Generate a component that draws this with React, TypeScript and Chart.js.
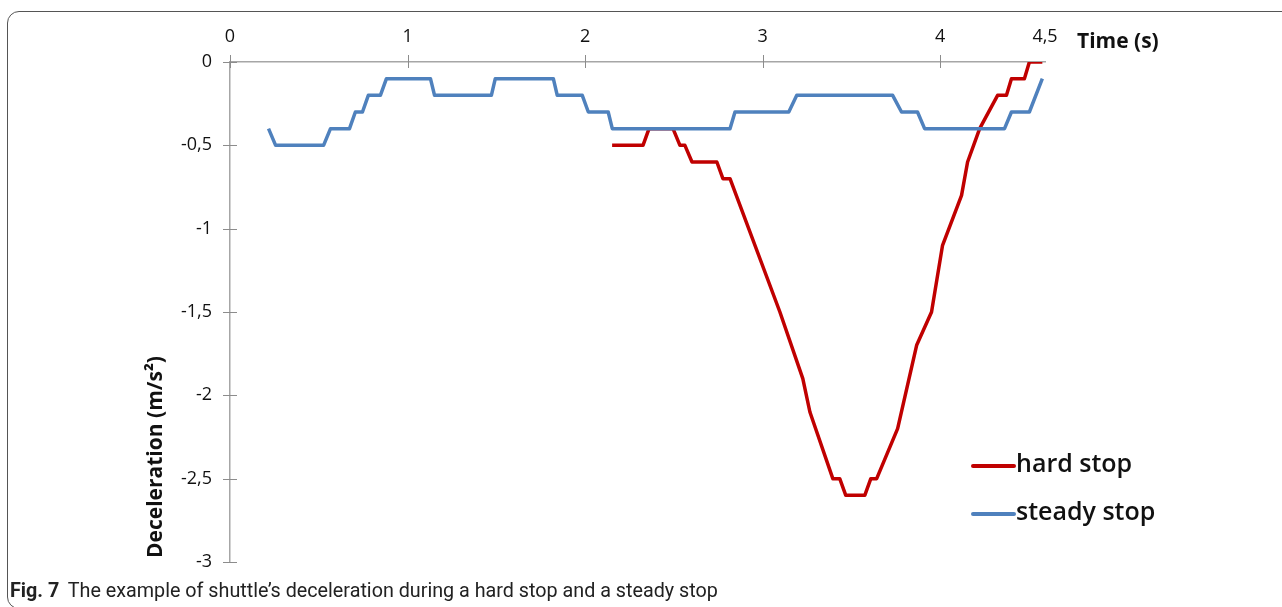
import { useEffect, useRef } from "react";
import { Chart, registerables } from "chart.js";
Chart.register(...registerables);

// ---- data ----
const X_TICK_VALUES = [0, 1, 2, 3, 4, 4.59];
const X_TICK_LABELS = ["0", "1", "2", "3", "4", "4,5"];
const Y_TICK_VALUES = [0, -0.5, -1, -1.5, -2, -2.5, -3];
const Y_TICK_LABELS = ["0", "-0,5", "-1", "-1,5", "-2", "-2,5", "-3"];
const SERIES_LABELS = ["hard stop", "steady stop"];
const SERIES_COLORS = ["#C00000", "#4F81BD"];

const HARD_T = [2.152, 2.326, 2.36, 2.495, 2.534, 2.562, 2.602, 2.742, 2.776, 2.816, 3.097, 3.226, 3.266, 3.395, 3.434, 3.468, 3.575, 3.609, 3.642, 3.76, 3.867, 3.951, 4.013, 4.12, 4.154, 4.222, 4.323, 4.373, 4.401, 4.474, 4.502, 4.575];
const HARD_V = [-0.5, -0.5, -0.4, -0.4, -0.5, -0.5, -0.6, -0.6, -0.7, -0.7, -1.5, -1.9, -2.1, -2.5, -2.5, -2.6, -2.6, -2.5, -2.5, -2.2, -1.7, -1.5, -1.1, -0.8, -0.6, -0.4, -0.2, -0.2, -0.1, -0.1, 0, 0];

const STEADY_T = [0.217, 0.257, 0.527, 0.566, 0.673, 0.706, 0.746, 0.779, 0.847, 0.881, 1.129, 1.152, 1.472, 1.494, 1.821, 1.843, 1.984, 2.018, 2.13, 2.153, 2.816, 2.844, 3.147, 3.192, 3.732, 3.782, 3.872, 3.912, 4.362, 4.401, 4.502, 4.575];
const STEADY_V = [-0.4, -0.5, -0.5, -0.4, -0.4, -0.3, -0.3, -0.2, -0.2, -0.1, -0.1, -0.2, -0.2, -0.1, -0.1, -0.2, -0.2, -0.3, -0.3, -0.4, -0.4, -0.3, -0.3, -0.2, -0.2, -0.3, -0.3, -0.4, -0.4, -0.3, -0.3, -0.1];

const X_TITLE = "Time (s)";
const Y_TITLE = "Deceleration (m/s²)";

const TICK_FONT = "Open Sans";

const decorPlugin = {
  id: "decor",
  afterDraw(chart: any) {
    const ctx = chart.ctx;
    const xs = chart.scales.x;
    const ys = chart.scales.y;
    const top = chart.chartArea.top;
    const left = chart.chartArea.left;
    ctx.save();
    // cross tick marks
    ctx.strokeStyle = "#8c8c8c";
    ctx.lineWidth = 1;
    X_TICK_VALUES.slice(0, 5).forEach((v) => {
      const px = Math.round(xs.getPixelForValue(v)) + 0.5;
      ctx.beginPath();
      ctx.moveTo(px, top - 7);
      ctx.lineTo(px, top + 6);
      ctx.stroke();
    });
    Y_TICK_VALUES.forEach((v) => {
      const py = Math.round(ys.getPixelForValue(v)) + 0.5;
      ctx.beginPath();
      ctx.moveTo(left - 7, py);
      ctx.lineTo(left + 7, py);
      ctx.stroke();
    });
    // axis titles
    ctx.fillStyle = "#111";
    ctx.font = `bold 21px ${TICK_FONT}`;
    ctx.textAlign = "left";
    ctx.textBaseline = "middle";
    ctx.fillText(X_TITLE, 1077, 42);
    ctx.save();
    ctx.translate(156, 457);
    ctx.rotate(-Math.PI / 2);
    ctx.textAlign = "center";
    ctx.font = `bold 21px ${TICK_FONT}`;
    ctx.fillText(Y_TITLE, 0, 0);
    ctx.restore();
    // legend
    const legendY = [466, 514];
    SERIES_LABELS.forEach((label, i) => {
      const y = legendY[i];
      ctx.strokeStyle = SERIES_COLORS[i];
      ctx.lineWidth = 4;
      ctx.lineCap = "round";
      ctx.beginPath();
      ctx.moveTo(973, y);
      ctx.lineTo(1014, y);
      ctx.stroke();
      ctx.fillStyle = "#111";
      ctx.font = `600 25px ${TICK_FONT}`;
      ctx.textAlign = "left";
      ctx.textBaseline = "middle";
      ctx.fillText(label, 1016, y - 1);
    });
    ctx.restore();
  },
};

export default function App() {
  const ref = useRef<HTMLCanvasElement | null>(null);
  useEffect(() => {
    if (!ref.current) return;
    const hard = HARD_T.map((t, i) => ({ x: t, y: HARD_V[i] }));
    const steady = STEADY_T.map((t, i) => ({ x: t, y: STEADY_V[i] }));
    const chart = new Chart(ref.current, {
      type: "line",
      data: {
        datasets: [
          {
            label: SERIES_LABELS[0],
            data: hard,
            borderColor: SERIES_COLORS[0],
            borderWidth: 3.5,
            pointRadius: 0,
            tension: 0,
            borderJoinStyle: "round",
            order: 2,
          },
          {
            label: SERIES_LABELS[1],
            data: steady,
            borderColor: SERIES_COLORS[1],
            borderWidth: 3.5,
            pointRadius: 0,
            tension: 0,
            borderJoinStyle: "round",
            order: 1,
          },
        ],
      },
      options: {
        animation: false,
        responsive: false,
        devicePixelRatio: 1,
        layout: { padding: { left: 0, top: 0, right: 237, bottom: 45 } },
        plugins: { legend: { display: false }, tooltip: { enabled: false } },
        scales: {
          x: {
            type: "linear",
            position: "top",
            min: 0,
            max: 4.59,
            afterBuildTicks: (s: any) => {
              s.ticks = X_TICK_VALUES.map((v) => ({ value: v }));
            },
            afterFit: (s: any) => {
              s.height = 62;
            },
            ticks: {
              callback: (v: any) => {
                const i = X_TICK_VALUES.indexOf(Number(v));
                return i >= 0 ? X_TICK_LABELS[i] : "";
              },
              font: { family: TICK_FONT, size: 18 },
              color: "#111",
              padding: 14,
              maxRotation: 0,
              autoSkip: false,
            },
            grid: { display: false, drawTicks: false },
            border: { display: true, color: "#a6a6a6", width: 1.5 },
          },
          y: {
            type: "linear",
            min: -3,
            max: 0,
            afterBuildTicks: (s: any) => {
              s.ticks = Y_TICK_VALUES.map((v) => ({ value: v }));
            },
            afterFit: (s: any) => {
              s.width = 230;
            },
            ticks: {
              callback: (v: any) => {
                const i = Y_TICK_VALUES.indexOf(Number(v));
                return i >= 0 ? Y_TICK_LABELS[i] : "";
              },
              font: { family: TICK_FONT, size: 18 },
              color: "#111",
              padding: 18,
              autoSkip: false,
            },
            grid: { display: false, drawTicks: false },
            border: { display: true, color: "#a6a6a6", width: 1.5 },
          },
        },
      },
      plugins: [decorPlugin],
    });
    return () => chart.destroy();
  }, []);

  return (
    <div
      style={{
        position: "absolute",
        left: 0,
        top: 0,
        width: 1282,
        height: 607,
        overflow: "hidden",
        background: "#fff",
      }}
    >
      <div
        style={{
          position: "absolute",
          left: 7,
          top: 11,
          width: 1320,
          height: 598,
          border: "1px solid #555",
          borderRadius: 12,
          boxSizing: "border-box",
        }}
      />
      <canvas ref={ref} width={1282} height={607} style={{ position: "absolute", left: 0, top: 0 }} />
      <div
        style={{
          position: "absolute",
          left: 10,
          top: 576,
          whiteSpace: "nowrap",
          fontFamily: "Roboto, 'Open Sans', sans-serif",
          fontSize: 21,
          lineHeight: "28px",
          color: "#222",
          transform: "scaleX(0.94)",
          transformOrigin: "left center",
        }}
      >
        <b style={{ fontWeight: 700 }}>Fig. 7</b>
        <span style={{ marginLeft: 9 }}>The example of shuttle’s deceleration during a hard stop and a steady stop</span>
      </div>
    </div>
  );
}
